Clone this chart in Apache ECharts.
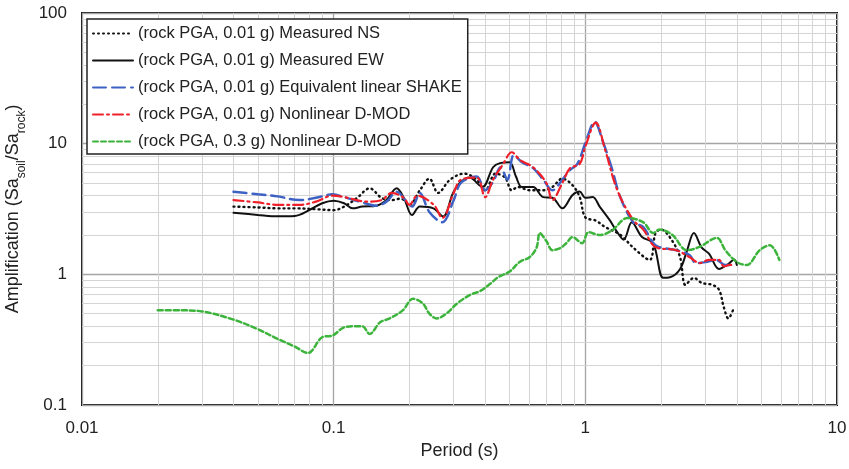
<!DOCTYPE html>
<html>
<head>
<meta charset="utf-8">
<script src="https://cdn.jsdelivr.net/npm/echarts@6/dist/echarts.min.js"></script>
<style>
  html, body { margin: 0; padding: 0; background: #fff; }
  #chart { width: 849px; height: 469px; }
</style>
</head>
<body>
<div id="chart"></div>
<script>
// period (s) and amplification, one pair of arrays per curve
const nsPeriod = [0.04, 0.05, 0.06, 0.07, 0.085, 0.1, 0.11, 0.124, 0.139, 0.155, 0.17, 0.185, 0.2, 0.22, 0.24, 0.26, 0.29, 0.33, 0.37, 0.4, 0.44, 0.48, 0.51, 0.54, 0.6, 0.68, 0.74, 0.81, 0.89, 0.95, 1.0, 1.1, 1.2, 1.38, 1.55, 1.8, 1.9, 2.0, 2.2, 2.38, 2.5, 2.7, 2.9, 3.2, 3.4, 3.55, 3.7, 3.9];
const nsAmp = [3.3, 3.25, 3.2, 3.2, 3.15, 3.1, 3.3, 3.85, 4.55, 3.85, 3.7, 3.8, 3.4, 4.4, 5.4, 4.2, 5.3, 5.9, 5.3, 4.4, 5.9, 5.5, 4.4, 4.66, 4.4, 4.4, 4.66, 5.4, 4.8, 3.9, 2.73, 2.58, 2.3, 2.0, 1.6, 1.29, 2.07, 2.2, 1.84, 1.35, 0.83, 0.94, 0.86, 0.83, 0.76, 0.56, 0.46, 0.56];

const ewPeriod = [0.04, 0.05, 0.06, 0.07, 0.08, 0.09, 0.1, 0.11, 0.119, 0.13, 0.148, 0.162, 0.178, 0.19, 0.205, 0.22, 0.249, 0.272, 0.298, 0.317, 0.346, 0.39, 0.43, 0.458, 0.5, 0.53, 0.56, 0.62, 0.68, 0.74, 0.81, 0.89, 0.95, 1.0, 1.07, 1.14, 1.25, 1.34, 1.42, 1.53, 1.68, 1.86, 2.04, 2.17, 2.38, 2.53, 2.7, 2.9, 3.1, 3.4, 3.7, 3.9, 4.0];
const ewAmp = [2.96, 2.85, 2.78, 2.8, 3.1, 3.5, 3.66, 3.5, 3.2, 3.3, 3.35, 3.7, 4.55, 3.85, 2.84, 3.3, 3.2, 2.77, 4.2, 5.0, 5.5, 4.66, 6.6, 7.1, 7.2, 5.6, 4.66, 4.66, 3.9, 3.85, 3.2, 4.05, 4.3, 3.85, 3.9, 3.3, 2.6, 2.1, 1.84, 2.5, 1.93, 1.73, 0.94, 0.95, 1.1, 1.5, 2.07, 1.6, 1.44, 1.1, 1.2, 1.3, 1.18];

const shakePeriod = [0.04, 0.05, 0.06, 0.073, 0.085, 0.099, 0.11, 0.127, 0.148, 0.162, 0.178, 0.195, 0.205, 0.22, 0.24, 0.27, 0.3, 0.32, 0.37, 0.4, 0.43, 0.46, 0.49, 0.52, 0.56, 0.62, 0.68, 0.74, 0.81, 0.87, 0.93, 1.0, 1.09, 1.17, 1.28, 1.37, 1.55, 1.7, 1.9, 2.3, 2.6, 2.75, 3.0, 3.3, 3.6, 3.9];
const shakeAmp = [4.28, 4.1, 3.95, 3.7, 3.85, 4.1, 3.9, 3.6, 3.35, 3.6, 4.28, 3.6, 3.3, 4.2, 3.0, 2.5, 3.7, 5.0, 5.6, 4.4, 5.1, 6.6, 5.3, 8.2, 7.2, 6.5, 5.3, 4.4, 5.3, 6.3, 7.0, 10.1, 14.7, 10.6, 6.3, 4.0, 2.5, 2.3, 1.67, 1.53, 1.4, 1.22, 1.24, 1.29, 1.18, 1.18];

const dmodPeriod = [0.04, 0.05, 0.06, 0.073, 0.085, 0.099, 0.11, 0.135, 0.155, 0.17, 0.19, 0.2, 0.215, 0.25, 0.27, 0.3, 0.32, 0.37, 0.4, 0.43, 0.47, 0.51, 0.55, 0.62, 0.7, 0.74, 0.81, 0.87, 0.95, 1.0, 1.1, 1.2, 1.34, 1.55, 1.7, 1.9, 2.3, 2.6, 2.85, 3.1, 3.4, 3.55, 3.75, 3.9];
const dmodAmp = [3.7, 3.55, 3.4, 3.4, 3.6, 4.0, 3.9, 3.6, 3.7, 4.2, 3.85, 3.4, 4.0, 3.4, 2.7, 4.2, 5.3, 5.5, 3.9, 5.3, 6.9, 8.6, 7.5, 6.6, 5.0, 3.7, 5.0, 6.5, 7.0, 9.5, 14.5, 8.9, 4.4, 2.6, 2.2, 1.62, 1.53, 1.35, 1.22, 1.29, 1.29, 1.15, 1.18, 1.18];

const strongPeriod = [0.02, 0.025, 0.03, 0.04, 0.05, 0.06, 0.07, 0.079, 0.09, 0.099, 0.109, 0.119, 0.13, 0.139, 0.153, 0.167, 0.188, 0.207, 0.226, 0.24, 0.257, 0.28, 0.31, 0.35, 0.38, 0.42, 0.45, 0.5, 0.55, 0.6, 0.64, 0.66, 0.7, 0.74, 0.8, 0.84, 0.89, 0.97, 1.03, 1.14, 1.28, 1.47, 1.7, 1.86, 1.97, 2.22, 2.53, 2.84, 3.33, 3.6, 4.0, 4.38, 4.93, 5.41, 5.9];
const strongAmp = [0.53, 0.53, 0.52, 0.45, 0.38, 0.32, 0.28, 0.25, 0.33, 0.34, 0.39, 0.4, 0.4, 0.35, 0.43, 0.46, 0.53, 0.65, 0.6, 0.5, 0.46, 0.5, 0.6, 0.7, 0.74, 0.85, 0.95, 1.05, 1.25, 1.35, 1.6, 2.07, 1.8, 1.53, 1.6, 1.73, 1.93, 1.73, 2.1, 2.0, 2.18, 2.7, 2.5, 2.07, 2.2, 2.0, 1.53, 1.62, 1.9, 1.53, 1.24, 1.18, 1.53, 1.67, 1.29];

const seriesNames = [
  '(rock PGA, 0.01 g) Measured NS',
  '(rock PGA, 0.01 g) Measured EW',
  '(rock PGA, 0.01 g) Equivalent linear SHAKE',
  '(rock PGA, 0.01 g) Nonlinear D-MOD',
  '(rock PGA, 0.3 g) Nonlinear D-MOD'
];

// minor grid positions (2..9 in each decade)
const minorX = [0.02, 0.03, 0.04, 0.05, 0.06, 0.07, 0.08, 0.09, 0.2, 0.3, 0.4, 0.5, 0.6, 0.7, 0.8, 0.9, 2, 3, 4, 5, 6, 7, 8, 9];
const minorY = [0.2, 0.3, 0.4, 0.5, 0.6, 0.7, 0.8, 0.9, 2, 3, 4, 5, 6, 7, 8, 9, 20, 30, 40, 50, 60, 70, 80, 90];

const FONT = '"Liberation Sans", Arial, sans-serif';

function pairs(xs, ys) {
  return xs.map((x, i) => [x, ys[i]]);
}

function curve(name, xs, ys, color, type, width) {
  return {
    name: name,
    type: 'line',
    data: pairs(xs, ys),
    symbol: 'none',
    smooth: 0.35,
    z: 3,
    itemStyle: { color: color },
    lineStyle: { color: color, width: width, type: type, cap: 'round' }
  };
}

const chart = echarts.init(document.getElementById('chart'), null, { renderer: 'canvas' });

const option = {
  animation: false,
  backgroundColor: '#fff',
  textStyle: { fontFamily: FONT },
  grid: {
    left: 82, right: 12, top: 13, bottom: 64,
    outerBoundsMode: 'none',
    containLabel: false,
    show: true,
    borderColor: '#111',
    borderWidth: 2,
    backgroundColor: 'transparent'
  },
  legend: {
    data: seriesNames,
    orient: 'vertical',
    left: 87,
    top: 19,
    z: 10,
    itemWidth: 40,
    itemHeight: 14,
    itemGap: 10,
    padding: [6, 6, 4, 5],
    backgroundColor: '#fff',
    borderColor: '#222',
    borderWidth: 1.5,
    itemStyle: { opacity: 0 },
    textStyle: { fontFamily: FONT, fontSize: 16.5, lineHeight: 16, color: '#222' }
  },
  xAxis: {
    type: 'log',
    logBase: 10,
    min: 0.01,
    max: 10,
    name: 'Period (s)',
    nameLocation: 'middle',
    nameGap: 34,
    nameTextStyle: { fontFamily: FONT, fontSize: 18, color: '#222' },
    axisLine: { show: false },
    axisTick: { show: false },
    axisLabel: { fontFamily: FONT, fontSize: 17, color: '#222', margin: 15 },
    splitLine: { show: true, lineStyle: { color: '#a4a4a4', width: 1.3 } }
  },
  yAxis: {
    type: 'log',
    logBase: 10,
    min: 0.1,
    max: 100,
    name: 'Amplification (Sa{sub|soil}/Sa{sub|rock})',
    nameLocation: 'middle',
    nameGap: 56,
    nameRotate: 90,
    nameTextStyle: {
      fontFamily: FONT, fontSize: 18, color: '#222', lineHeight: 22,
      rich: {
        sub: { fontFamily: FONT, fontSize: 12, color: '#222', verticalAlign: 'bottom', lineHeight: 22, padding: [0, 0, -4, 0] }
      }
    },
    axisLine: { show: false },
    axisTick: { show: false },
    axisLabel: { fontFamily: FONT, fontSize: 17, color: '#222', margin: 15 },
    splitLine: { show: true, lineStyle: { color: '#a4a4a4', width: 1.3 } }
  },
  series: [
    {
      name: 'minor grid',
      type: 'line',
      data: [],
      silent: true,
      z: 1,
      markLine: {
        silent: true,
        z: 1,
        symbol: ['none', 'none'],
        label: { show: false },
        lineStyle: { color: '#d4d4d4', width: 1, type: 'solid' },
        emphasis: { disabled: true },
        data: minorX.map(v => ({ xAxis: v })).concat(minorY.map(v => ({ yAxis: v })))
      }
    },
    curve(seriesNames[0], nsPeriod, nsAmp, '#111', [1, 4], 2.4),
    curve(seriesNames[1], ewPeriod, ewAmp, '#111', 'solid', 2),
    curve(seriesNames[2], shakePeriod, shakeAmp, '#3e62c4', [13, 6], 2.5),
    curve(seriesNames[3], dmodPeriod, dmodAmp, '#f0202a', [10, 4, 2, 4], 2.2),
    curve(seriesNames[4], strongPeriod, strongAmp, '#3cb43c', [5, 3], 2.5)
  ]
};

chart.setOption(option);
</script>
</body>
</html>
